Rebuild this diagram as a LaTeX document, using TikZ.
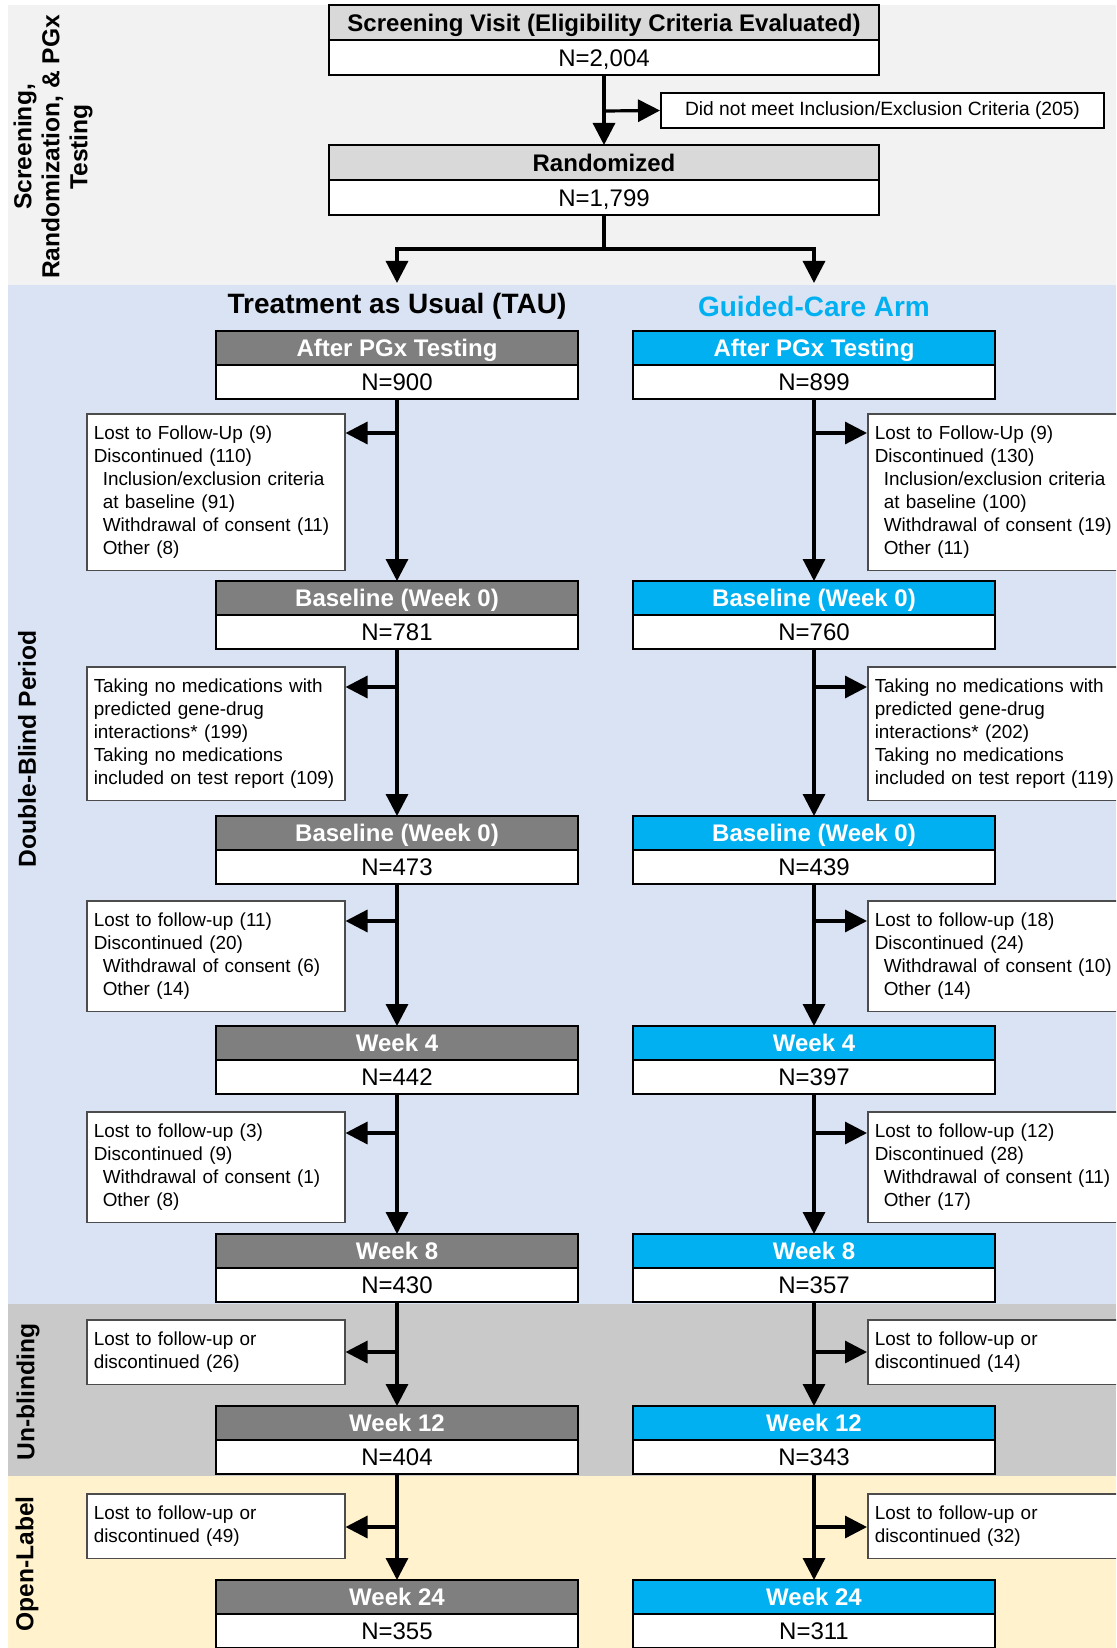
\documentclass[tikz,border=0pt]{standalone}
\usepackage{fontspec}
\setmainfont{Liberation Sans}
\usetikzlibrary{arrows.meta}

\definecolor{bandtop}{HTML}{F2F2F2}
\definecolor{bandblue}{HTML}{DAE3F3}
\definecolor{bandgrey}{HTML}{C9C9C9}
\definecolor{bandyellow}{HTML}{FFF2CC}
\definecolor{taugrey}{HTML}{7F7F7F}
\definecolor{gccyan}{HTML}{00B0F0}
\definecolor{scrgrey}{HTML}{D9D9D9}

\begin{document}
\begin{tikzpicture}[x=0.5pt,y=-0.5pt,
  hdr/.style={draw=black,line width=1.3pt,outer sep=0pt,inner sep=0pt,anchor=north,minimum width=181pt,minimum height=17pt,text height=8.6pt,text depth=0pt,font=\bfseries\fontsize{12}{14}\selectfont},
  hdrscr/.style={hdr,fill=scrgrey,minimum width=275pt,minimum height=17.5pt},
  hdrtau/.style={hdr,fill=taugrey,text=white},
  hdrgc/.style={hdr,fill=gccyan,text=white},
  nrow/.style={hdr,fill=white,font=\fontsize{12}{14}\selectfont},
  nrowscr/.style={nrow,minimum width=275pt,minimum height=17.5pt},
  sidebox/.style={draw=black!70,line width=0.75pt,fill=white,anchor=north west,inner xsep=3.5pt,inner ysep=6pt,text width=122pt,align=left,font=\fontsize{9.45}{11.5}\selectfont},
  exclbox/.style={draw=black,line width=1pt,fill=white,anchor=west,minimum width=221.5pt,minimum height=17.5pt,font=\fontsize{9.6}{11.5}\selectfont},
  arr/.style={line width=1.6pt,-{Triangle[length=11pt,width=11pt]}},
  phase/.style={rotate=90,align=center,font=\bfseries\fontsize{12.3}{14}\selectfont},
  armtitle/.style={font=\bfseries\fontsize{14}{16}\selectfont}]
\useasboundingbox (0,0) rectangle (1116,1648);
\clip (0,0) rectangle (1116,1648);
\fill[bandtop] (8,5) rectangle (1116,285);
\fill[bandblue] (8,285) rectangle (1116,1304);
\fill[bandgrey] (8,1304) rectangle (1116,1476);
\fill[bandyellow] (8,1476) rectangle (1116,1648);

\node[phase] (phscr) at (53,147) {Screening,\\Randomization, \& PGx\\Testing};
\node[phase] (phdb) at (27,749) {Double-Blind Period};
\node[phase] (phub) at (28,1392) {Un-blinding};
\node[phase] (phol) at (27,1564) {Open-Label};

\node[hdrscr] (scr) at (604,5) {Screening Visit (Eligibility Criteria Evaluated)};
\node[nrowscr] (scrn) at (scr.south) {N=2,004};
\node[exclbox] (excl) at (660,110.5) {Did not meet Inclusion/Exclusion Criteria (205)};
\node[hdrscr] (rnd) at (604,145) {Randomized};
\node[nrowscr] (rndn) at (rnd.south) {N=1,799};
\coordinate (j0) at (604,111);
\coordinate (split) at (604,249);
\coordinate (tauin) at (397,283);
\coordinate (gcin) at (814,283);
\draw[arr] (scrn.south) -- (rnd.north);
\draw[arr] (j0) -- (excl.west);
\draw[line width=1.6pt] (rndn.south) -- (split);
\draw[arr] (split) -| (tauin);
\draw[arr] (split) -| (gcin);

\node[armtitle] (tautitle) at (397,306) {Treatment as Usual (TAU)};
\node[armtitle,text=gccyan] (gctitle) at (814,306) {Guided-Care Arm};

\node[hdrtau] (tau1) at (397,331) {After PGx Testing};
\node[nrow] (tau1n) at (tau1.south) {N=900};
\node[hdrtau] (tau2) at (397,581) {Baseline (Week 0)};
\node[nrow] (tau2n) at (tau2.south) {N=781};
\node[hdrtau] (tau3) at (397,816) {Baseline (Week 0)};
\node[nrow] (tau3n) at (tau3.south) {N=473};
\node[hdrtau] (tau4) at (397,1026) {Week 4};
\node[nrow] (tau4n) at (tau4.south) {N=442};
\node[hdrtau] (tau5) at (397,1234) {Week 8};
\node[nrow] (tau5n) at (tau5.south) {N=430};
\node[hdrtau] (tau6) at (397,1406) {Week 12};
\node[nrow] (tau6n) at (tau6.south) {N=404};
\node[hdrtau] (tau7) at (397,1580) {Week 24};
\node[nrow] (tau7n) at (tau7.south) {N=355};

\node[hdrgc] (gc1) at (814,331) {After PGx Testing};
\node[nrow] (gc1n) at (gc1.south) {N=899};
\node[hdrgc] (gc2) at (814,581) {Baseline (Week 0)};
\node[nrow] (gc2n) at (gc2.south) {N=760};
\node[hdrgc] (gc3) at (814,816) {Baseline (Week 0)};
\node[nrow] (gc3n) at (gc3.south) {N=439};
\node[hdrgc] (gc4) at (814,1026) {Week 4};
\node[nrow] (gc4n) at (gc4.south) {N=397};
\node[hdrgc] (gc5) at (814,1234) {Week 8};
\node[nrow] (gc5n) at (gc5.south) {N=357};
\node[hdrgc] (gc6) at (814,1406) {Week 12};
\node[nrow] (gc6n) at (gc6.south) {N=343};
\node[hdrgc] (gc7) at (814,1580) {Week 24};
\node[nrow] (gc7n) at (gc7.south) {N=311};

\node[sidebox] (tauq1) at (86,413) {Lost to Follow-Up (9)\\Discontinued (110)\\\hspace*{4.5pt}Inclusion/exclusion criteria\\\hspace*{4.5pt}at baseline (91)\\\hspace*{4.5pt}Withdrawal of consent (11)\\\hspace*{4.5pt}Other (8)};
\node[sidebox] (tauq2) at (86,666) {Taking no medications with\\predicted gene-drug\\interactions* (199)\\Taking no medications\\included on test report (109)};
\node[sidebox] (tauq3) at (86,900) {Lost to follow-up (11)\\Discontinued (20)\\\hspace*{4.5pt}Withdrawal of consent (6)\\\hspace*{4.5pt}Other (14)};
\node[sidebox] (tauq4) at (86,1111) {Lost to follow-up (3)\\Discontinued (9)\\\hspace*{4.5pt}Withdrawal of consent (1)\\\hspace*{4.5pt}Other (8)};
\node[sidebox] (tauq5) at (86,1319) {Lost to follow-up or\\discontinued (26)};
\node[sidebox] (tauq6) at (86,1493) {Lost to follow-up or\\discontinued (49)};

\node[sidebox] (gcq1) at (867,413) {Lost to Follow-Up (9)\\Discontinued (130)\\\hspace*{4.5pt}Inclusion/exclusion criteria\\\hspace*{4.5pt}at baseline (100)\\\hspace*{4.5pt}Withdrawal of consent (19)\\\hspace*{4.5pt}Other (11)};
\node[sidebox] (gcq2) at (867,666) {Taking no medications with\\predicted gene-drug\\interactions* (202)\\Taking no medications\\included on test report (119)};
\node[sidebox] (gcq3) at (867,900) {Lost to follow-up (18)\\Discontinued (24)\\\hspace*{4.5pt}Withdrawal of consent (10)\\\hspace*{4.5pt}Other (14)};
\node[sidebox] (gcq4) at (867,1111) {Lost to follow-up (12)\\Discontinued (28)\\\hspace*{4.5pt}Withdrawal of consent (11)\\\hspace*{4.5pt}Other (17)};
\node[sidebox] (gcq5) at (867,1319) {Lost to follow-up or\\discontinued (14)};
\node[sidebox] (gcq6) at (867,1493) {Lost to follow-up or\\discontinued (32)};

\draw[arr] (tau1n.south) -- (tau2.north);
\draw[arr] (tau2n.south) -- (tau3.north);
\draw[arr] (tau3n.south) -- (tau4.north);
\draw[arr] (tau4n.south) -- (tau5.north);
\draw[arr] (tau5n.south) -- (tau6.north);
\draw[arr] (tau6n.south) -- (tau7.north);
\draw[arr] (gc1n.south) -- (gc2.north);
\draw[arr] (gc2n.south) -- (gc3.north);
\draw[arr] (gc3n.south) -- (gc4.north);
\draw[arr] (gc4n.south) -- (gc5.north);
\draw[arr] (gc5n.south) -- (gc6.north);
\draw[arr] (gc6n.south) -- (gc7.north);

\coordinate (tj1) at (397,433);
\coordinate (tj2) at (397,687);
\coordinate (tj3) at (397,921);
\coordinate (tj4) at (397,1133);
\coordinate (tj5) at (397,1352);
\coordinate (tj6) at (397,1527);
\coordinate (gj1) at (814,433);
\coordinate (gj2) at (814,687);
\coordinate (gj3) at (814,921);
\coordinate (gj4) at (814,1133);
\coordinate (gj5) at (814,1352);
\coordinate (gj6) at (814,1527);
\draw[arr] (tj1) -- (tauq1.east |- tj1);
\draw[arr] (tj2) -- (tauq2.east |- tj2);
\draw[arr] (tj3) -- (tauq3.east |- tj3);
\draw[arr] (tj4) -- (tauq4.east |- tj4);
\draw[arr] (tj5) -- (tauq5.east |- tj5);
\draw[arr] (tj6) -- (tauq6.east |- tj6);
\draw[arr] (gj1) -- (gcq1.west |- gj1);
\draw[arr] (gj2) -- (gcq2.west |- gj2);
\draw[arr] (gj3) -- (gcq3.west |- gj3);
\draw[arr] (gj4) -- (gcq4.west |- gj4);
\draw[arr] (gj5) -- (gcq5.west |- gj5);
\draw[arr] (gj6) -- (gcq6.west |- gj6);
\end{tikzpicture}
\end{document}
